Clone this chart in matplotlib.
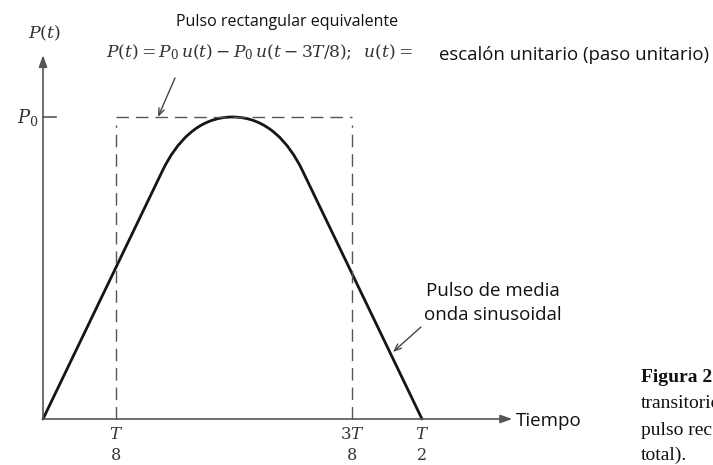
import matplotlib
matplotlib.use("Agg")
import matplotlib.pyplot as plt
from matplotlib.path import Path
from matplotlib.patches import PathPatch

# schematic drawing, t in units of T and P in units of P0 (ticks not to scale)
tick_pos = [0.0963, 0.4077, 0.5]
tick_num = ["T", "3T", "T"]
tick_den = ["8", "8", "2"]

# equivalent rectangular pulse
rect_t = [0.0963, 0.4077]
rect_p = 1.0

# half-sine pulse: straight flanks joined by a rounded top (bezier vertices)
pulse_t = [0.0, 0.158, 0.1755, 0.2045, 0.25, 0.2955, 0.3245, 0.342, 0.5]
pulse_p = [0.0, 0.824, 0.914, 1.0, 1.0, 1.0, 0.914, 0.824, 0.0]

W, H = 713, 465
fig = plt.figure(figsize=(W / 100, H / 100), dpi=100)
ax = fig.add_axes([0, 0, 1, 1])
ax.set_xlim(-43 / 758, 670 / 758)
ax.set_ylim(-46 / 302, 419 / 302)
ax.axis("off")

plt.rcParams["mathtext.fontset"] = "dejavuserif"

axis_col = "#555555"
sans = "Open Sans"
serif = "Liberation Serif"


def fx(x, y):
    # pixel position -> figure fraction
    return x / W, 1 - y / H


# axes with arrows
ax.annotate("", xy=(0.619, 0), xytext=(0, 0),
            arrowprops=dict(arrowstyle="-|>,head_length=0.7,head_width=0.25",
                            color=axis_col, lw=1.2, shrinkA=0, shrinkB=0))
ax.annotate("", xy=(0, 1.205), xytext=(0, 0),
            arrowprops=dict(arrowstyle="-|>,head_length=0.7,head_width=0.25",
                            color=axis_col, lw=1.2, shrinkA=0, shrinkB=0))
ax.plot([0, 0.017], [rect_p, rect_p], color=axis_col, lw=1.2)

# rectangular pulse (dashed)
dash = dict(color=axis_col, lw=1.0, dashes=(9, 5))
ax.plot(rect_t, [rect_p, rect_p], **dash)
for t in rect_t:
    ax.plot([t, t], [0, rect_p - 0.027], **dash)

# half-sine pulse
codes = [Path.MOVETO, Path.LINETO, Path.CURVE4, Path.CURVE4, Path.CURVE4,
         Path.CURVE4, Path.CURVE4, Path.CURVE4, Path.LINETO]
path = Path(list(zip(pulse_t, pulse_p)), codes)
ax.add_patch(PathPatch(path, facecolor="none", edgecolor="#151515", lw=2.0,
                       capstyle="round", joinstyle="round"))

# x tick labels
for t, n, d in zip(tick_pos, tick_num, tick_den):
    ax.text(t, -0.05, "$" + n + "$", ha="center", va="center", fontsize=12,
            color="#333333")
    ax.text(t, -0.12, d, ha="center", va="center", fontsize=11.5,
            family="DejaVu Serif", color="#333333")

ax.text(-0.0567 + 28 / 758, rect_p, "$P_0$", ha="center", va="center",
        fontsize=13, color="#333333")
fig.text(*fx(45, 33), "$P(t)$", ha="center", va="center", fontsize=12.5,
         color="#333333")

fig.text(*fx(176, 22), "Pulso rectangular equivalente", ha="left",
         va="center", fontsize=11.5, family=sans, color="#111111")
fig.text(*fx(106, 52),
         r"$P(t) = P_0\,u(t) - P_0\,u(t - 3T/8);\;\; u(t) = $",
         ha="left", va="center", fontsize=12.3, color="#333333")
fig.text(*fx(439, 55), "escalón unitario (paso unitario)", ha="left",
         va="center", fontsize=13.4, family=sans, color="#111111")

fig.text(*fx(493, 303), "Pulso de media\nonda sinusoidal", ha="center",
         va="center", fontsize=13.5, family=sans, color="#111111",
         linespacing=1.4)
fig.text(*fx(516, 421), "Tiempo", ha="left", va="center", fontsize=13.5,
         family=sans, color="#111111")

# leader arrows
ax.annotate("", xy=((158 - 43) / 758, (419 - 117) / 302),
            xytext=((175 - 43) / 758, (419 - 78) / 302),
            arrowprops=dict(arrowstyle="->,head_length=0.5,head_width=0.2",
                            color="#444444", lw=1.0, shrinkA=0, shrinkB=0))
ax.annotate("", xy=((393 - 43) / 758, (419 - 352) / 302),
            xytext=((421 - 43) / 758, (419 - 327) / 302),
            arrowprops=dict(arrowstyle="->,head_length=0.5,head_width=0.2",
                            color="#444444", lw=1.0, shrinkA=0, shrinkB=0))

# caption (runs off the right edge in the reference)
cap = dict(ha="left", va="center", fontsize=14, family=serif,
           color="#111111")
fig.text(*fx(641, 378), "Figura 2", fontweight="bold", **cap)
fig.text(*fx(641, 404), "transitorio", **cap)
fig.text(*fx(641, 430), "pulso rec", **cap)
fig.text(*fx(641, 455), "total).", **cap)

fig.savefig("out.png", dpi=100, facecolor="white")
